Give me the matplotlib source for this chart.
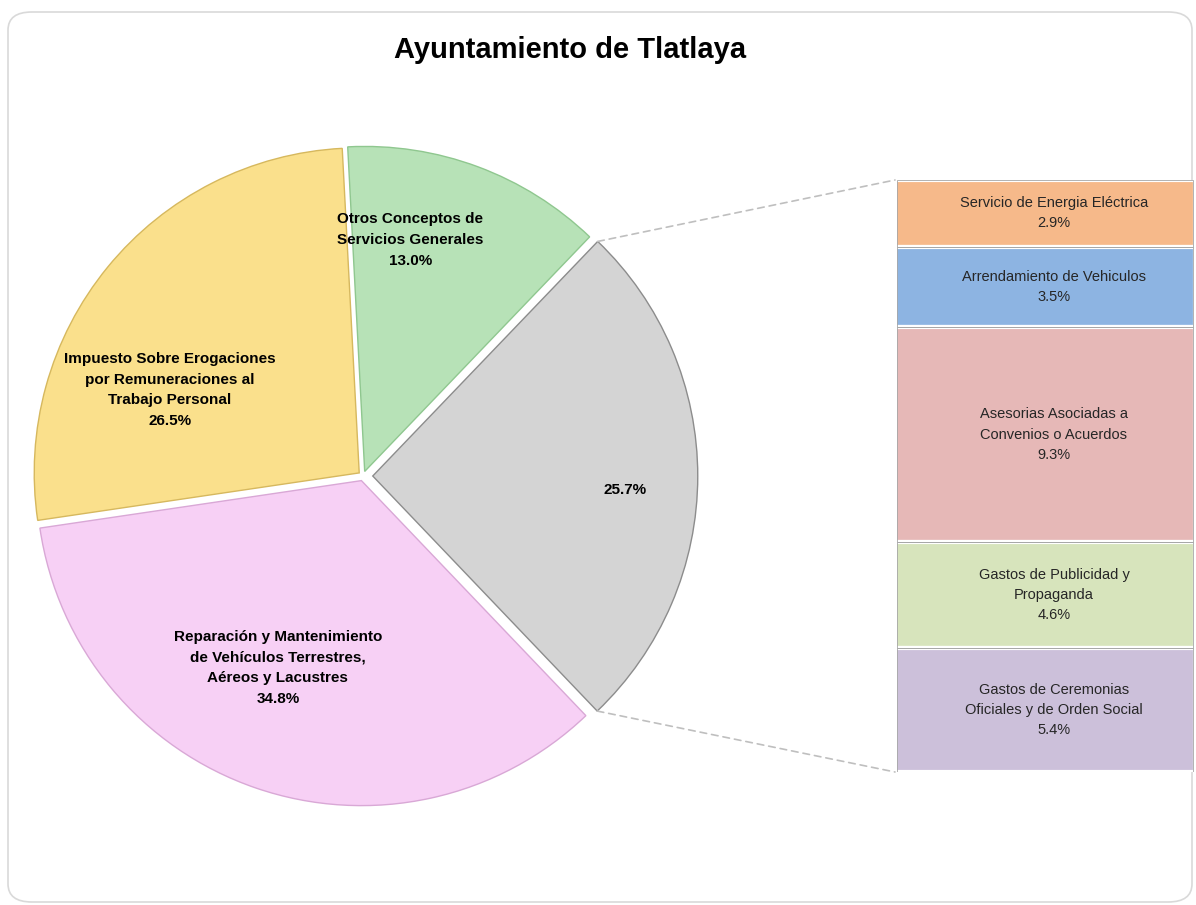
import numpy as np
import matplotlib
matplotlib.use('Agg')
import matplotlib.pyplot as plt
from matplotlib.patches import ConnectionPatch, FancyBboxPatch

plt.rcParams['font.family'] = ['Liberation Sans', 'DejaVu Sans']

TITLE = 'Ayuntamiento de Tlatlaya'

# pie slices (clockwise from top)
pie_labels = [
    'Otros Conceptos de\nServicios Generales',
    '',
    'Reparación y Mantenimiento\nde Vehículos Terrestres,\nAéreos y Lacustres',
    'Impuesto Sobre Erogaciones\npor Remuneraciones al\nTrabajo Personal',
]
pie_values = [13.0, 25.7, 34.8, 26.5]
pie_colors = ['#B7E2B7', '#D4D4D4', '#F7D0F5', '#FAE08C']
pie_edges = ['#8FC78F', '#8C8C8C', '#D9A8D6', '#D6B85E']

# breakdown of the grey slice (top to bottom)
bar_labels = [
    'Servicio de Energia Eléctrica',
    'Arrendamiento de Vehiculos',
    'Asesorias Asociadas a\nConvenios o Acuerdos',
    'Gastos de Publicidad y\nPropaganda',
    'Gastos de Ceremonias\nOficiales y de Orden Social',
]
bar_values = [2.9, 3.5, 9.3, 4.6, 5.4]
bar_colors = ['#F6B98A', '#8DB4E2', '#E6B8B7', '#D7E4BC', '#CCC0DA']

W, H = 1196, 905
fig = plt.figure(figsize=(W / 100, H / 100), dpi=100)
fig.patch.set_facecolor('white')

frame = FancyBboxPatch((8 / W, 3 / H), 1184 / W, 890 / H,
                       boxstyle='round,pad=0,rounding_size=0.02',
                       transform=fig.transFigure, facecolor='none',
                       edgecolor='#D9D9D9', linewidth=1.2, zorder=-10)
fig.patches.append(frame)

fig.text(570 / W, 1 - 50 / H, TITLE, ha='center', va='center',
         fontsize=21, fontweight='bold', color='black')

# pie axes: centre at (363, 476) px, radius 325 px
R = 325
cx, cy = 363, H - 476
half = 1.1 * R
ax = fig.add_axes([(cx - half) / W, (cy - half) / H, 2 * half / W, 2 * half / H])

wedges, _ = ax.pie(pie_values, colors=pie_colors, startangle=93, counterclock=False,
                   explode=[0.015, 0.03, 0.015, 0.015], radius=1,
                   wedgeprops=dict(linewidth=1.0))
for w, ec in zip(wedges, pie_edges):
    w.set_edgecolor(ec)
ax.set_xlim(-1.1, 1.1)
ax.set_ylim(-1.1, 1.1)
ax.set_aspect('equal')
ax.axis('off')

label_pos = [(0.145, 0.726), (0.806, -0.043), (-0.262, -0.591), (-0.594, 0.265)]
for lab, val, (lx, ly) in zip(pie_labels, pie_values, label_pos):
    txt = f'{lab}\n{val:.1f}%' if lab else f'{val:.1f}%'
    ax.text(lx, ly, txt, ha='center', va='center', fontsize=11,
            fontweight='bold', color='black', linespacing=1.6)

# bar of the grey slice
bx0, by0, bx1, by1 = 895, 180, 1195, 772
bax = fig.add_axes([bx0 / W, (H - by1) / H, (bx1 - bx0) / W, (by1 - by0) / H])
total = sum(bar_values)
bottoms = np.concatenate([[0], np.cumsum(bar_values)[:-1]])
bax.bar(0.5, bar_values, bottom=bottoms, width=1.0, color=bar_colors,
        edgecolor='white', linewidth=3)
bax.bar(0.5, bar_values, bottom=bottoms, width=0.985, color='none',
        edgecolor='#A6A6A6', linewidth=0.6)
for lab, val, b in zip(bar_labels, bar_values, bottoms):
    bax.text(0.53, b + val / 2, f'{lab}\n{val:.1f}%', ha='center', va='center',
             fontsize=10.5, color='#262626', linespacing=1.55)
bax.set_xlim(0, 1)
bax.set_ylim(total, 0)
bax.axis('off')

# dashed connectors from grey slice to the bar
grey = wedges[1]
gx, gy = grey.center
for ang, yb in [(grey.theta2, 1), (grey.theta1, 0)]:
    px = gx + np.cos(np.radians(ang))
    py = gy + np.sin(np.radians(ang))
    con = ConnectionPatch(xyA=(px, py), coordsA=ax.transData,
                          xyB=(0, yb), coordsB=bax.transAxes,
                          color='#BFBFBF', linestyle=(0, (4, 3)), linewidth=1.2)
    fig.add_artist(con)

fig.savefig('out.png', dpi=100, facecolor='white')
